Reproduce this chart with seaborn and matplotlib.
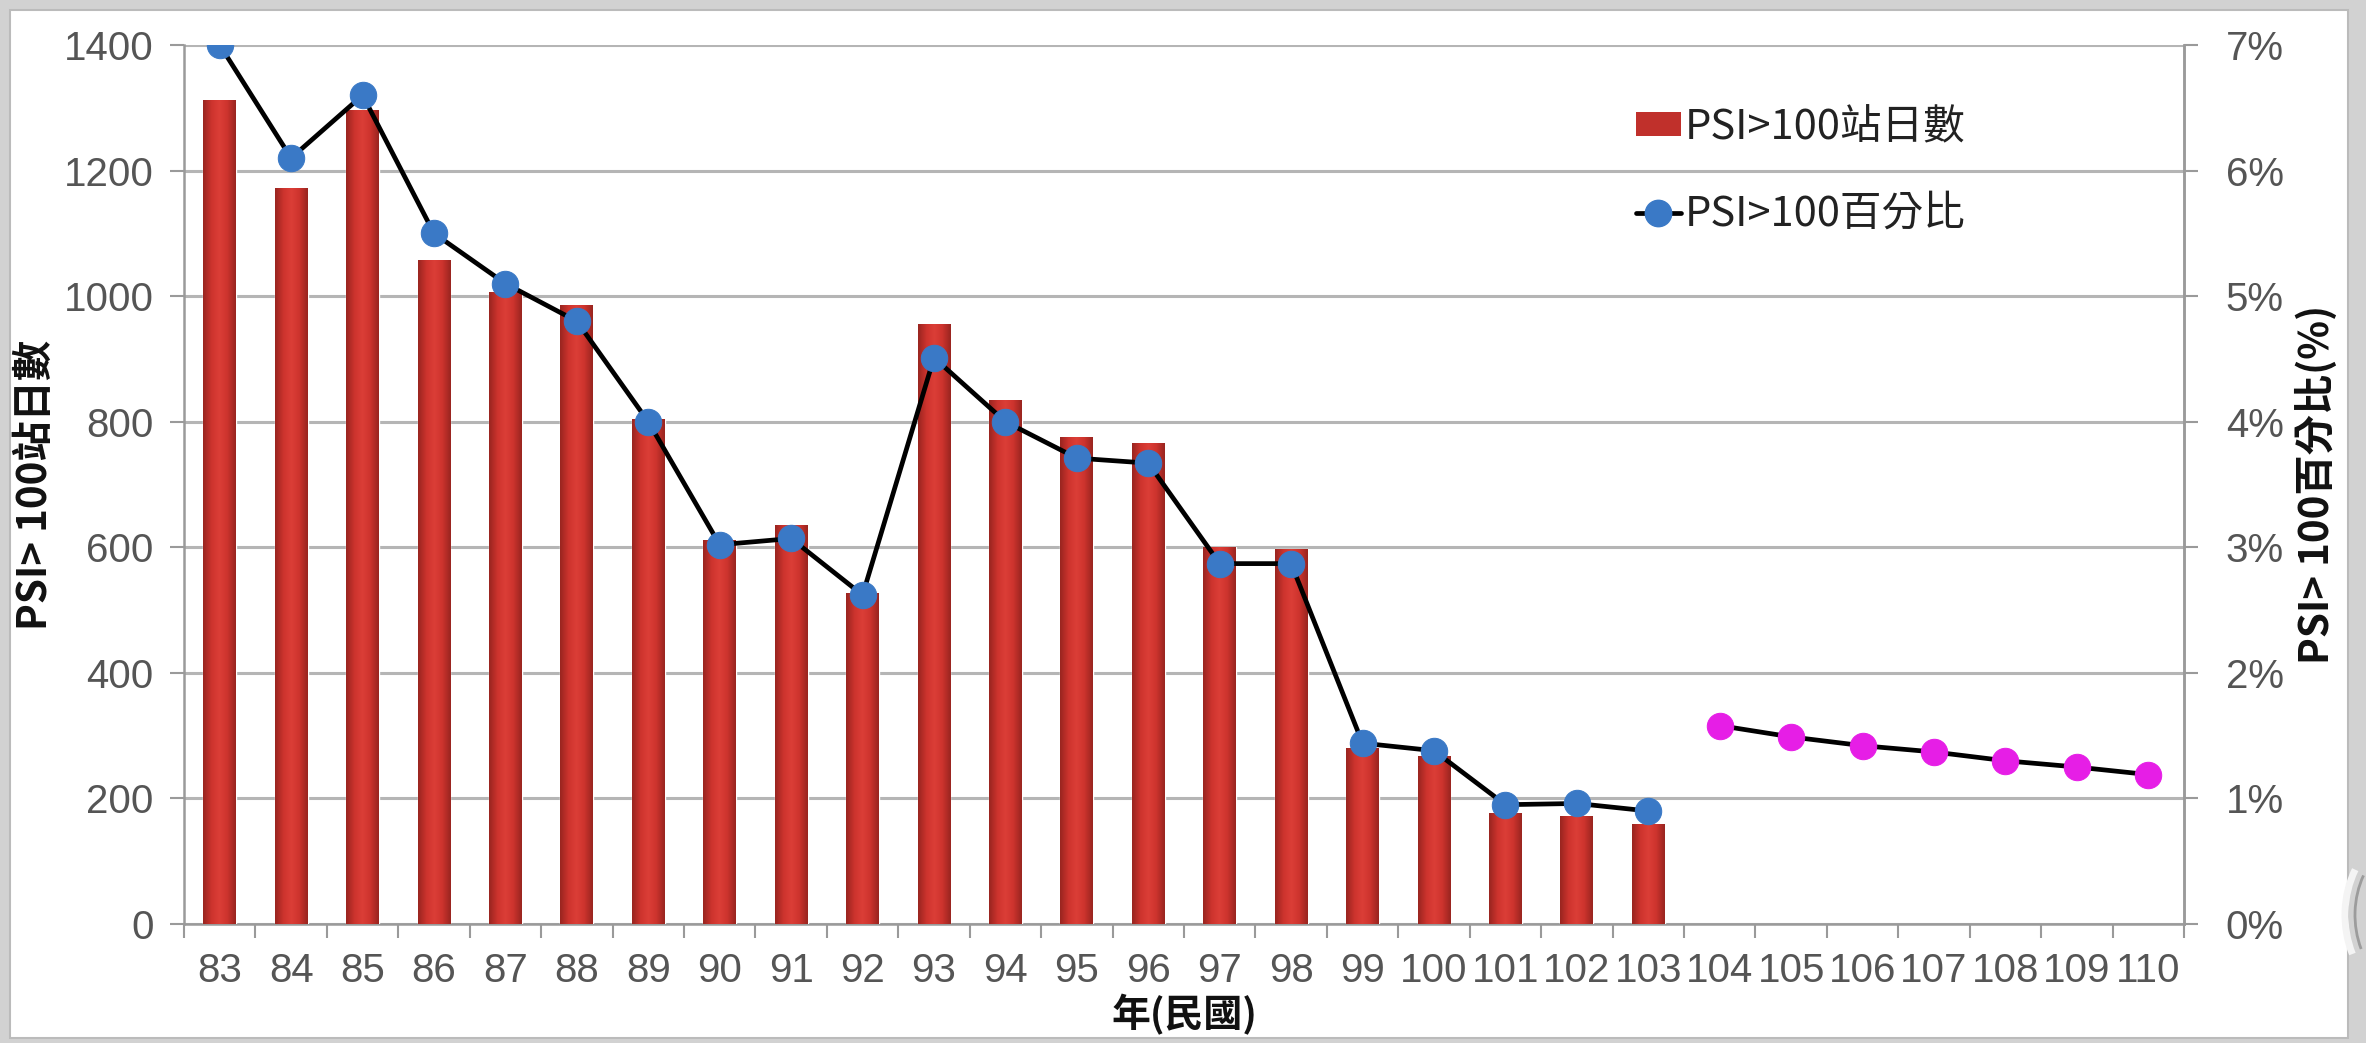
import numpy as np
import pandas as pd
import matplotlib
matplotlib.use("Agg")
import matplotlib.pyplot as plt
from matplotlib.colors import LinearSegmentedColormap
from matplotlib.patches import Rectangle, Patch, Arc
from matplotlib.lines import Line2D
import seaborn as sns

# ---- data -------------------------------------------------------------
years = [str(y) for y in range(83, 111)]                 # 民國 83 - 110
bar_years = [str(y) for y in range(83, 104)]             # observed years
station_days = [1312, 1172, 1296, 1057, 1006, 986, 805, 612, 635, 527,
                955, 835, 775, 766, 600, 598, 280, 268, 176, 172, 160]
pct_observed = [7.0, 6.1, 6.6, 5.5, 5.1, 4.8, 4.0, 3.02, 3.07, 2.62,
                4.51, 4.0, 3.71, 3.67, 2.87, 2.87, 1.44, 1.38, 0.95, 0.96, 0.90]
target_years = [str(y) for y in range(104, 111)]
pct_target = [1.58, 1.49, 1.42, 1.37, 1.30, 1.25, 1.19]

left_ticks = [0, 200, 400, 600, 800, 1000, 1200, 1400]
right_ticks = [0, 1, 2, 3, 4, 5, 6, 7]

legend_bar = "PSI>100站日數"
legend_line = "PSI>100百分比"
ylabel_left = "PSI> 100站日數"
ylabel_right = "PSI> 100百分比(%)"
xlabel = "年(民國)"

# ---- style ------------------------------------------------------------
sns.set_theme(style="white")
plt.rcParams["font.family"] = ["Liberation Sans", "Noto Sans CJK TC", "DejaVu Sans"]
cjk = ["Noto Sans CJK TC", "Liberation Sans", "DejaVu Sans"]

BAR_RED = "#c0302b"
DOT_BLUE = "#3a79c6"
DOT_MAGENTA = "#e61ee6"
LINE_W = 3.4
MARK_S = 19

W, H, DPI = 2366, 1043, 100
fig = plt.figure(figsize=(W / DPI, H / DPI), dpi=DPI, facecolor="#d2d2d2")

# white card behind the chart, with the slide's rounded ornament on the right
bg = fig.add_axes([0, 0, 1, 1], zorder=-10)
bg.set_xlim(0, W)
bg.set_ylim(H, 0)
bg.axis("off")
bg.add_patch(Rectangle((10, 10), 2348 - 10, 1038 - 10, facecolor="white",
                       edgecolor="#bbbbbb", linewidth=1.5))
bg.add_patch(Arc((2420, 915), 150, 180, theta1=150, theta2=215,
                 color="#f4f4f4", linewidth=5))
bg.add_patch(Arc((2420, 915), 130, 160, theta1=150, theta2=215,
                 color="#9c9c9c", linewidth=2))

ax = fig.add_axes([184 / W, 1 - 924 / H, 2000 / W, (924 - 45) / H])
ax.set_facecolor("none")

bar_df = pd.DataFrame({"year": bar_years, "days": station_days})
sns.barplot(data=bar_df, x="year", y="days", order=years, ax=ax,
            color=BAR_RED, width=0.46, saturation=1,
            zorder=3, legend=False)

# Excel-like shading across each bar
shade = LinearSegmentedColormap.from_list(
    "barshade", ["#992520", "#cc332d", "#dc3e37", "#cc332d", "#992520"])
grad = np.linspace(0, 1, 64).reshape(1, -1)
for p in list(ax.patches):
    x0, y0 = p.get_x(), p.get_y()
    w, h = p.get_width(), p.get_height()
    if not np.isfinite(h) or h <= 0:
        continue
    im = ax.imshow(grad, cmap=shade, aspect="auto", extent=(x0, x0 + w, y0, y0 + h),
                   zorder=3.5, interpolation="bicubic")
    im.set_clip_path(p)

ax.set_xlim(-0.5, len(years) - 0.5)
ax.set_ylim(0, 1400)
ax.set_yticks(left_ticks)
ax.set_yticklabels([str(v) for v in left_ticks])
ax.yaxis.grid(True, color="#b5b5b5", linewidth=2.2, zorder=0)
ax.set_axisbelow(True)

ax.set_xticks(range(len(years)))
ax.set_xticklabels(years)
ax.set_xticks(np.arange(-0.5, len(years)), minor=True)
ax.tick_params(axis="x", which="major", length=0, pad=20, labelsize=29, labelcolor="#555555")
ax.tick_params(axis="x", which="minor", length=10, width=1.5, color="#9a9a9a", direction="out", bottom=True)
ax.tick_params(axis="y", which="major", length=10, width=1.5, color="#9a9a9a", left=True,
               pad=12, labelsize=29, labelcolor="#555555")

ax.spines["top"].set_visible(False)
for side in ["left", "bottom", "right"]:
    ax.spines[side].set_color("#9a9a9a")
    ax.spines[side].set_linewidth(1.8)

ax.set_xlabel(xlabel, family=cjk, fontsize=28, fontweight="bold", color="#111111", labelpad=3)
ax.set_ylabel(ylabel_left, family=cjk, fontsize=29, fontweight="bold", color="#111111")
ax.yaxis.set_label_coords(-0.064, 0.5)

# ---- percentage axis ---------------------------------------------------
ax2 = ax.twinx()
ax2.set_ylim(0, 7)
ax2.set_yticks(right_ticks)
ax2.set_yticklabels([f"{v}%" for v in right_ticks])
ax2.tick_params(axis="y", length=10, width=1.5, color="#9a9a9a", right=True,
                pad=20, labelsize=29, labelcolor="#555555")
for side in ["top", "left", "bottom"]:
    ax2.spines[side].set_visible(False)
ax2.spines["right"].set_color("#9a9a9a")
ax2.spines["right"].set_linewidth(1.8)
ax2.grid(False)

pos = {y: i for i, y in enumerate(years)}
obs_df = pd.DataFrame({"x": [pos[y] for y in bar_years], "pct": pct_observed})
tgt_df = pd.DataFrame({"x": [pos[y] for y in target_years], "pct": pct_target})

sns.lineplot(data=obs_df, x="x", y="pct", ax=ax2, color="black", linewidth=LINE_W,
             marker="o", markersize=MARK_S, markerfacecolor=DOT_BLUE,
             markeredgecolor=DOT_BLUE, sort=False, zorder=5, legend=False)
sns.lineplot(data=tgt_df, x="x", y="pct", ax=ax2, color="black", linewidth=LINE_W,
             marker="o", markersize=MARK_S, markerfacecolor=DOT_MAGENTA,
             markeredgecolor=DOT_MAGENTA, sort=False, zorder=5, legend=False)

ax2.set_ylabel(ylabel_right, family=cjk, fontsize=29, fontweight="bold", color="#111111",
               rotation=90)
ax2.yaxis.set_label_coords(1.056, 0.5)
ax2.set_xlabel("")

# ---- legend -------------------------------------------------------------
handles = [Patch(facecolor=BAR_RED, edgecolor="none"),
           Line2D([0], [0], color="black", linewidth=LINE_W, marker="o", markersize=MARK_S,
                  markerfacecolor=DOT_BLUE, markeredgecolor=DOT_BLUE)]
ax2.legend(handles, [legend_bar, legend_line], loc="upper left",
           bbox_to_anchor=(0.707, 0.972), frameon=False, prop={"family": cjk, "size": 30},
           labelspacing=1.1, handlelength=1.1, handleheight=0.5, handletextpad=0.08,
           labelcolor="#222222")

fig.savefig("out.png", dpi=DPI, facecolor=fig.get_facecolor())
